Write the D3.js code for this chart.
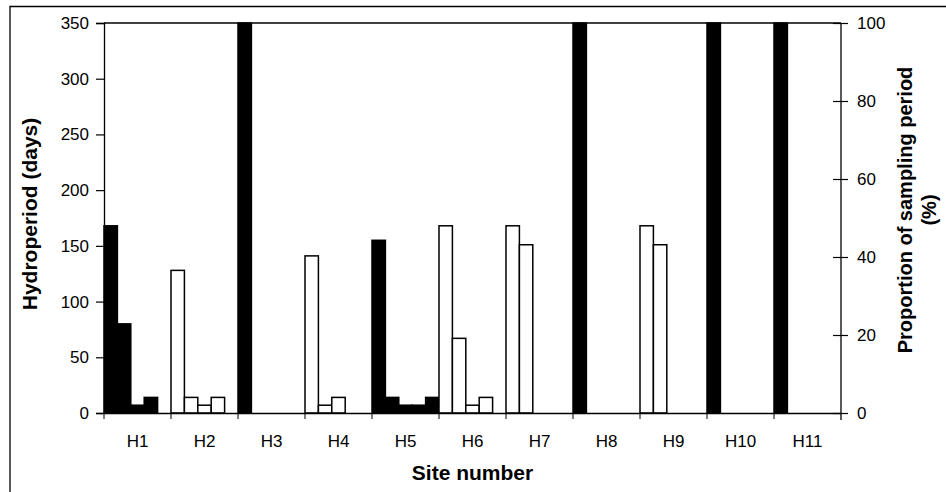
<!DOCTYPE html>
<html>
<head>
<meta charset="utf-8">
<script src="https://cdn.jsdelivr.net/npm/d3@7"></script>
<style>
  html, body { margin: 0; padding: 0; background: #fff; }
  svg { display: block; }
  text { font-family: "Liberation Sans", Arial, sans-serif; fill: #000; }
</style>
</head>
<body>
<script>
// Sites along the x axis
const sites = ["H1", "H2", "H3", "H4", "H5", "H6", "H7", "H8", "H9", "H10", "H11"];
// Site type: "P" drawn as solid bars, "T" drawn as open bars
const siteType = ["P", "T", "P", "T", "P", "T", "T", "P", "T", "P", "P"];
// Hydroperiod (days) for up to five successive wet periods at each site
const period1 = [168, 128, 350, 141, 155, 168, 168, 350, 168, 350, 350];
const period2 = [80, 14, 0, 7, 14, 67, 151, 0, 151, 0, 0];
const period3 = [7, 7, 0, 14, 7, 7, 0, 0, 0, 0, 0];
const period4 = [14, 14, 0, 0, 7, 14, 0, 0, 0, 0, 0];
const period5 = [0, 0, 0, 0, 14, 0, 0, 0, 0, 0, 0];
// Axis ticks
const daysTicks = [0, 50, 100, 150, 200, 250, 300, 350];
const pctTicks = [0, 20, 40, 60, 80, 100];

const W = 946, H = 492;
const margin = { left: 104, right: 105, top: 23, bottom: 79 };

const svg = d3.select("body").append("svg").attr("width", W).attr("height", H);

// Outer frame (left and top edges)
svg.append("path")
  .attr("d", `M10,${H} L10,6.5 L${W},6.5`)
  .attr("fill", "none").attr("stroke", "#000").attr("stroke-width", 1.3);

const x0 = margin.left, x1 = W - margin.right;
const yTop = margin.top, yBot = H - margin.bottom;

const x = d3.scaleBand().domain(sites).range([x0, x1]).padding(0);
const periods = [period1, period2, period3, period4, period5];
const slot = d3.scaleBand().domain(d3.range(periods.length)).range([0, x.bandwidth()]).padding(0);
const y = d3.scaleLinear().domain([0, 350]).range([yBot, yTop]);
const y2 = d3.scaleLinear().domain([0, 100]).range([yBot, yTop]);
const fill = d3.scaleOrdinal().domain(["P", "T"]).range(["#000", "#fff"]);

// Bars
const rows = [];
sites.forEach((s, i) => {
  periods.forEach((p, k) => rows.push({ site: s, k, v: p[i], type: siteType[i] }));
});
svg.append("g").selectAll("rect").data(rows).join("rect")
  .attr("x", d => x(d.site) + slot(d.k))
  .attr("y", d => y(d.v))
  .attr("width", slot.bandwidth())
  .attr("height", d => y(0) - y(d.v))
  .attr("fill", d => fill(d.type))
  .attr("stroke", "#000")
  .attr("stroke-width", 1.5);

// Plot top border
svg.append("line").attr("x1", x0).attr("x2", x1).attr("y1", yTop).attr("y2", yTop)
  .attr("stroke", "#000").attr("stroke-width", 1.3);

// Left axis (days)
const gl = svg.append("g").attr("transform", `translate(${x0},0)`)
  .call(d3.axisLeft(y).tickValues(daysTicks).tickSize(8).tickPadding(7));
gl.selectAll("text").style("font-size", "17px");

// Right axis (percent), ticks crossing the line
const gr = svg.append("g").attr("transform", `translate(${x1},0)`)
  .call(d3.axisRight(y2).tickValues(pctTicks).tickSize(7).tickPadding(9));
gr.selectAll(".tick line").attr("x1", -8).attr("x2", 7);
gr.selectAll("text").style("font-size", "17px");

// Bottom axis: labels at site centres, ticks at site boundaries
const gb = svg.append("g").attr("transform", `translate(0,${yBot})`)
  .call(d3.axisBottom(x).tickSize(0).tickPadding(22));
gb.selectAll("text").style("font-size", "17px");
gb.append("g").selectAll("line").data(sites).join("line")
  .attr("x1", d => x(d)).attr("x2", d => x(d))
  .attr("y1", 0).attr("y2", 6)
  .attr("stroke", "#000");

[gl, gr, gb].forEach(g => {
  g.selectAll(".domain").attr("stroke", "#000").attr("stroke-width", 1.3);
  g.selectAll(".tick line").attr("stroke", "#000").attr("stroke-width", 1.2);
});
gr.select(".domain").attr("d", `M0,${yTop}V${yBot + 7}`);

// Axis titles
svg.append("text")
  .attr("transform", `translate(30,${(yTop + yBot) / 2 - 4}) rotate(-90)`)
  .attr("text-anchor", "middle").attr("dy", "0.35em")
  .style("font-size", "21px").style("font-weight", "bold")
  .text("Hydroperiod (days)");

const rt = svg.append("text")
  .attr("transform", `translate(905,210) rotate(-90)`)
  .attr("text-anchor", "middle")
  .style("font-size", "20px").style("font-weight", "bold");
rt.append("tspan").attr("x", 0).attr("dy", "0.35em").text("Proportion of sampling period");
rt.append("tspan").attr("x", 0).attr("dy", "1.2em").text("(%)");

svg.append("text")
  .attr("x", (x0 + x1) / 2).attr("y", 480)
  .attr("text-anchor", "middle")
  .style("font-size", "21px").style("font-weight", "bold")
  .text("Site number");
</script>
</body>
</html>
